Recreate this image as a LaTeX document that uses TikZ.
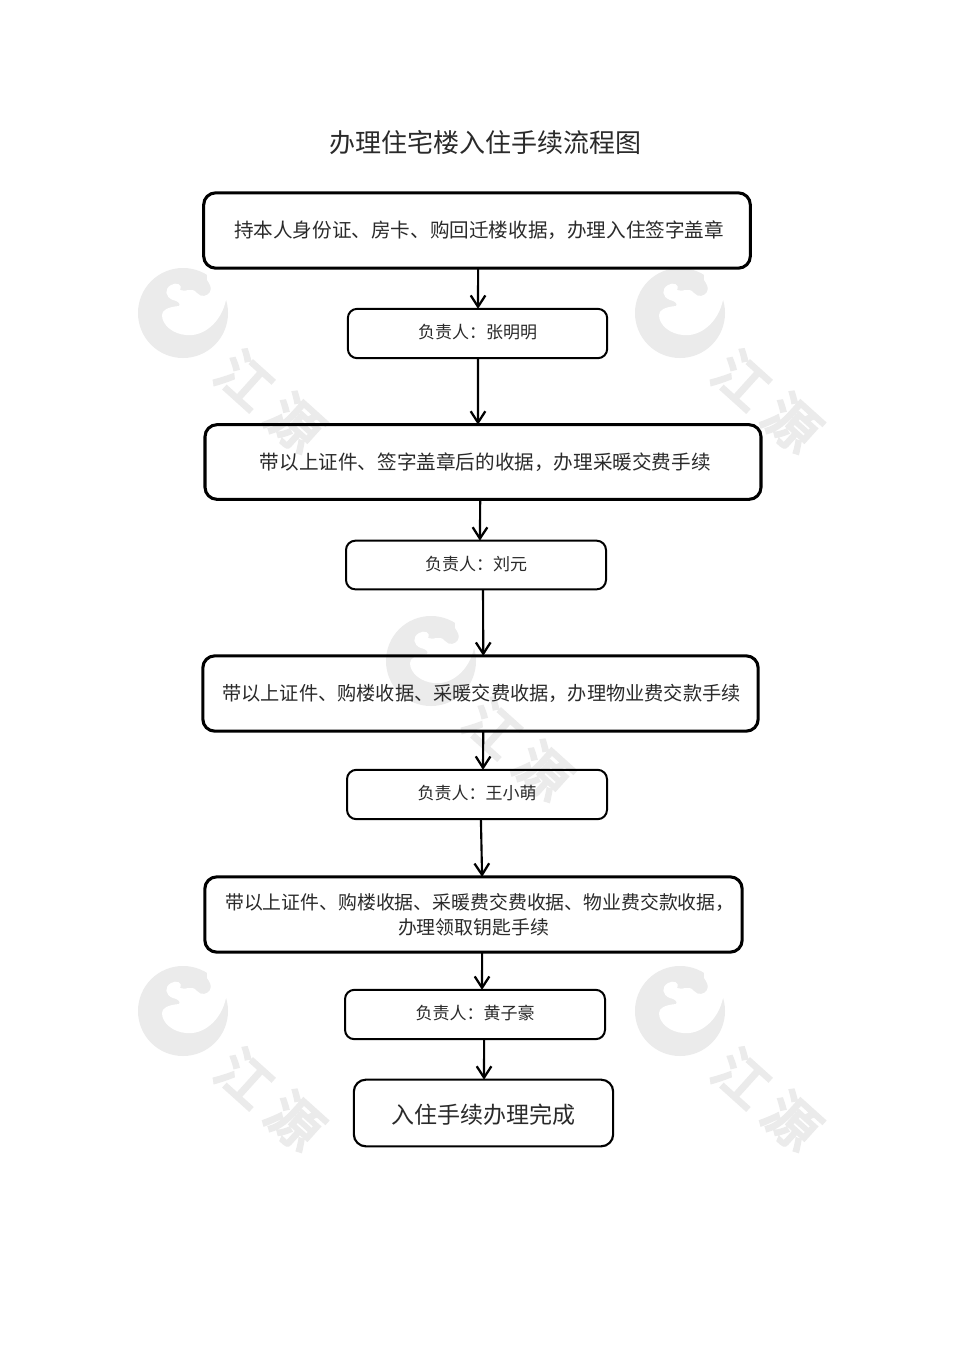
\documentclass[tikz,border=0pt]{standalone}
\usepackage{fontspec}
\setmainfont{Noto Sans CJK SC}
\newfontfamily\wmfont[FakeBold=5]{Noto Sans CJK SC}
\usetikzlibrary{calc,arrows.meta}
\definecolor{wm}{HTML}{EBEBEB}
\definecolor{ink}{HTML}{2A2A2A}
\newcommand{\fsz}[1]{\fontsize{#1pt}{1.34\dimexpr #1pt\relax}\selectfont}
\newcommand{\lift}[1]{\raisebox{3.2pt}{#1}}
\newcommand{\sink}[1]{\raisebox{-1pt}{#1}}
\newcommand{\fwcomma}{\symbol{"FF0C}}
\newcommand{\fwcolon}{\symbol{"FF1A}}
\tikzset{
  x=0.75pt,y=-0.75pt,
  base/.style={rounded corners=9pt,inner sep=0pt,outer sep=0pt,align=center,text=ink,black},
  bigbox/.style={base,draw=black,line width=2.3pt,text=ink,font=\fsz{14.7}},
  smallbox/.style={base,draw=black,line width=1.5pt,rounded corners=7pt,text=ink,font=\fsz{12.75}},
  endbox/.style={base,draw=black,line width=1.6pt,text=ink,font=\fsz{17.25}},
  flow/.style={draw=black,line width=1.6pt,-{Straight Barb[length=8.5pt,width=11pt,line width=1.7pt]}},
  wmark/.pic={
    \fill[wm] (0,0) circle (45);
    \fill[white] (43,-13) .. controls (38,10) and (20,24) .. (3,22)
       .. controls (-10,21) and (-21,12) .. (-21,2)
       .. controls (-21,-3) and (-15,-6) .. (-4,-7)
       .. controls (-2,-9) and (-5,-12) .. (-10,-13)
       .. controls (-18,-16) and (-19,-24) .. (-12,-28)
       .. controls (-7,-31) and (0,-29) .. (-3,-23)
       .. controls (3,-20) and (8,-27) .. (14,-20)
       .. controls (18,-15) and (25,-17) .. (27,-21)
       .. controls (29,-25) and (27,-29) .. (24,-33)
       -- (24,-50) -- (60,-50) -- (60,-13) -- cycle;
    \node[rotate=-42,text=wm,font=\fsz{40}\wmfont,inner sep=0pt] (jiang) at (62,67) {江};
    \node[rotate=-42,text=wm,font=\fsz{40}\wmfont,inner sep=0pt] (yuan) at (112,110) {源};
  }
}
\begin{document}
\begin{tikzpicture}
\useasboundingbox (0,0) rectangle (970,1371);
\fill[white] (0,0) rectangle (970,1371);
\pic (wa) at (183,313) {wmark};
\pic (wb) at (680,313) {wmark};
\pic (wc) at (431,661) {wmark};
\pic (wd) at (183,1011) {wmark};
\pic (we) at (680,1011) {wmark};

\node[text=ink,font=\fsz{19.5},inner sep=0pt] (title) at (485,143) {办理住宅楼入住手续流程图};

\node[bigbox,minimum width=410pt,minimum height=56.5pt] (A) at (477,230.5) {\hspace*{3pt}\sink{持本人身份证、房卡、购回迁楼收据\fwcomma 办理入住签字盖章}};
\node[smallbox,minimum width=194.5pt,minimum height=37pt] (a) at (477.5,333.5) {\lift{负责人\fwcolon 张明明}};
\node[bigbox,minimum width=417pt,minimum height=56pt] (B) at (483,462) {\hspace*{3.5pt}\sink{带以上证件、签字盖章后的收据\fwcomma 办理采暖交费手续}};
\node[smallbox,minimum width=195pt,minimum height=36.5pt] (b) at (476,565) {\lift{负责人\fwcolon 刘元}};
\node[bigbox,minimum width=416.5pt,minimum height=56.5pt,font=\fsz{14.4}] (C) at (480.5,693.5) {\hspace*{1.5pt}\sink{带以上证件、购楼收据、采暖交费收据\fwcomma 办理物业费交款手续}};
\node[smallbox,minimum width=195pt,minimum height=37pt] (c) at (477,794.5) {\lift{负责人\fwcolon 王小萌}};
\node[bigbox,minimum width=403pt,minimum height=56.5pt,font=\fsz{14.15}] (D) at (473.5,914.5) {\hspace*{9.5pt}带以上证件、购楼收据、采暖费交费收据、物业费交款收据\fwcomma\\办理领取钥匙手续};
\node[smallbox,minimum width=195pt,minimum height=37pt] (d) at (475,1014.5) {\lift{负责人\fwcolon 黄子豪}};
\node[endbox,minimum width=194.5pt,minimum height=50pt] (E) at (483.5,1113) {\raisebox{-1.5pt}[\height][\depth]{入住手续办理完成}};

\draw[flow] ($(A.south west)!.502!(A.south east)$) -- ($(a.north west)!.502!(a.north east)$);
\draw[flow] ($(a.south west)!.502!(a.south east)$) -- ($(B.north west)!.491!(B.north east)$);
\draw[flow] ($(B.south west)!.495!(B.south east)$) -- ($(b.north west)!.515!(b.north east)$);
\draw[flow] ($(b.south west)!.527!(b.south east)$) -- ($(C.north west)!.505!(C.north east)$);
\draw[flow] ($(C.south west)!.505!(C.south east)$) -- ($(c.north west)!.523!(c.north east)$);
\draw[flow] ($(c.south west)!.515!(c.south east)$) -- ($(D.north west)!.516!(D.north east)$);
\draw[flow] ($(D.south west)!.516!(D.south east)$) -- ($(d.north west)!.527!(d.north east)$);
\draw[flow] ($(d.south west)!.535!(d.south east)$) -- ($(E.north west)!.502!(E.north east)$);
\end{tikzpicture}
\end{document}
